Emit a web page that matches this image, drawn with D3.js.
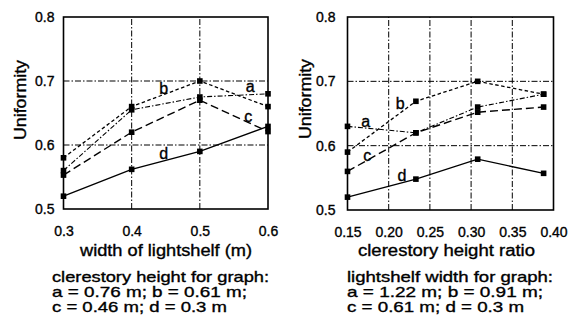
<!DOCTYPE html>
<html><head><meta charset="utf-8">
<script src="https://cdn.jsdelivr.net/npm/d3@7/dist/d3.min.js"></script>
<style>
html,body{margin:0;padding:0;background:#fff;}
text{font-family:"Liberation Sans",Arial,Helvetica,sans-serif;fill:#000;}
</style></head>
<body><svg id="c" width="572" height="329"></svg>
<script>
// ---------- data ----------
const seriesNames = ["a", "b", "c", "d"];

// left graph: width of lightshelf (m)
const leftX = [0.3, 0.4, 0.5, 0.6];
const leftA = [0.56, 0.655, 0.675, 0.68];
const leftB = [0.58, 0.66, 0.70, 0.66];
const leftC = [0.553, 0.62, 0.67, 0.621];
const leftD = [0.52, 0.562, 0.59, 0.629];
const leftXTicks = [0.3, 0.4, 0.5, 0.6];
const leftXTickLabels = ["0.3", "0.4", "0.5", "0.6"];

// right graph: clerestory height ratio
const rightX = [0.15, 0.233, 0.308, 0.388];
const rightA = [0.63, 0.62, 0.66, 0.68];
const rightB = [0.59, 0.669, 0.70, 0.68];
const rightC = [0.56, 0.62, 0.652, 0.66];
const rightD = [0.52, 0.548, 0.579, 0.557];
const rightXTicks = [0.15, 0.20, 0.25, 0.30, 0.35, 0.40];
const rightXTickLabels = ["0.15", "0.20", "0.25", "0.30", "0.35", "0.40"];

const yTicks = [0.5, 0.6, 0.7, 0.8];
const yTickLabels = ["0.5", "0.6", "0.7", "0.8"];

const yTitle = "Uniformity";
const leftXTitle = "width of lightshelf (m)";
const rightXTitle = "clerestory height ratio";
const leftCaption = ["clerestory height for graph:", "a = 0.76 m; b = 0.61 m;", "c = 0.46 m; d = 0.3 m"];
const rightCaption = ["lightshelf width for graph:", "a = 1.22 m; b = 0.91 m;", "c = 0.61 m; d = 0.3 m"];

// ---------- styles ----------
const lineStyle = {
  a: {dash: "5,2,1.5,2", w: 1.1},
  b: {dash: "3.5,2.5", w: 1.3},
  c: {dash: "8,4", w: 1.4},
  d: {dash: null, w: 1.4}
};
const gridDash = "6,2,1.5,2";

const svg = d3.select("#c");
svg.append("rect").attr("width", 572).attr("height", 329).attr("fill", "#fff");

function inkText(sel) {
  return sel.attr("stroke", "#000").attr("stroke-width", 0.35).attr("paint-order", "stroke");
}

function panel(cfg) {
  const x = d3.scaleLinear().domain(cfg.xDomain).range(cfg.xRange);
  const y = d3.scaleLinear().domain([0.5, 0.8]).range(cfg.yRange);
  const g = svg.append("g");

  // grid (dash-dot)
  const gx = cfg.xTicks.filter(v => v > cfg.xDomain[0] + 1e-9 && v < cfg.xDomain[1] - 1e-9);
  g.selectAll(".gx").data(gx).join("line")
    .attr("x1", d => x(d)).attr("x2", d => x(d))
    .attr("y1", y(0.5)).attr("y2", y(0.8))
    .attr("stroke", "#000").attr("stroke-width", 1).attr("stroke-dasharray", gridDash);
  g.selectAll(".gy").data([0.6, 0.7]).join("line")
    .attr("x1", x(cfg.xDomain[0])).attr("x2", x(cfg.xDomain[1]))
    .attr("y1", d => y(d)).attr("y2", d => y(d))
    .attr("stroke", "#000").attr("stroke-width", 1).attr("stroke-dasharray", gridDash);

  // frame
  g.append("rect")
    .attr("x", x(cfg.xDomain[0])).attr("y", y(0.8))
    .attr("width", x(cfg.xDomain[1]) - x(cfg.xDomain[0]))
    .attr("height", y(0.5) - y(0.8))
    .attr("fill", "none").attr("stroke", "#000").attr("stroke-width", 1.6);

  // axis tick labels via d3 axes
  const xa = d3.axisBottom(x).tickValues(cfg.xTicks)
    .tickFormat((d, i) => cfg.xTickLabels[i]).tickSizeInner(0).tickSizeOuter(0).tickPadding(17);
  const gxa = g.append("g").attr("transform", `translate(0,${y(0.5)})`).call(xa);
  gxa.select(".domain").remove();
  inkText(gxa.selectAll("text").attr("font-size", 14).attr("font-family", "Liberation Sans, Arial, sans-serif").attr("fill", "#000"));

  const ya = d3.axisLeft(y).tickValues(yTicks)
    .tickFormat((d, i) => yTickLabels[i]).tickSizeInner(0).tickSizeOuter(0).tickPadding(cfg.yPad);
  const gya = g.append("g").attr("transform", `translate(${x(cfg.xDomain[0])},0)`).call(ya);
  gya.select(".domain").remove();
  inkText(gya.selectAll("text").attr("font-size", 14).attr("font-family", "Liberation Sans, Arial, sans-serif").attr("fill", "#000"));

  // series
  const line = d3.line().x(d => x(d[0])).y(d => y(d[1]));
  seriesNames.forEach((s, k) => {
    const pts = cfg.xs.map((v, i) => [v, cfg.series[k][i]]);
    const st = lineStyle[s];
    g.append("path").attr("d", line(pts)).attr("fill", "none")
      .attr("stroke", "#000").attr("stroke-width", st.w)
      .attr("stroke-dasharray", st.dash);
    g.selectAll(null).data(pts).join("rect")
      .attr("x", d => x(d[0]) - 2.8).attr("y", d => y(d[1]) - 2.8)
      .attr("width", 5.6).attr("height", 5.6).attr("fill", "#000");
  });

  // series letters
  cfg.labelPos.forEach((p, k) => {
    inkText(g.append("text").attr("x", x(p[0])).attr("y", y(p[1])).attr("dy", "0.35em")
      .attr("text-anchor", "middle").attr("font-size", 16).text(seriesNames[k]));
  });

  // y title
  inkText(g.append("text").attr("transform", `translate(${cfg.yTitleX},${cfg.yTitleY}) rotate(-90)`)
    .attr("text-anchor", "middle").attr("font-size", 17)
    .attr("textLength", 80).attr("lengthAdjust", "spacingAndGlyphs").text(yTitle));

  // x title
  inkText(g.append("text").attr("x", cfg.xTitleX).attr("y", 255.5)
    .attr("font-size", 16).attr("textLength", cfg.xTitleW).attr("lengthAdjust", "spacingAndGlyphs")
    .text(cfg.xTitle));

  // caption
  cfg.caption.forEach((t, i) => {
    inkText(g.append("text").attr("x", cfg.capX).attr("y", 282 + i * 15)
      .attr("font-size", 15).attr("textLength", cfg.capW[i]).attr("lengthAdjust", "spacingAndGlyphs")
      .text(t));
  });
}

panel({
  xDomain: [0.3, 0.6], xRange: [63.5, 268], yRange: [209, 17],
  xTicks: leftXTicks, xTickLabels: leftXTickLabels, yPad: 9,
  xs: leftX, series: [leftA, leftB, leftC, leftD],
  labelPos: [[0.574, 0.691], [0.447, 0.689], [0.571, 0.644], [0.447, 0.5875]],
  yTitleX: 26, yTitleY: 100, xTitle: leftXTitle, xTitleX: 80, xTitleW: 172,
  caption: leftCaption, capX: 52, capW: [217, 195, 175]
});
panel({
  xDomain: [0.15, 0.40], xRange: [347.5, 553.5], yRange: [210, 17],
  xTicks: rightXTicks, xTickLabels: rightXTickLabels, yPad: 12,
  xs: rightX, series: [rightA, rightB, rightC, rightD],
  labelPos: [[0.172, 0.637], [0.214, 0.666], [0.174, 0.5855], [0.216, 0.554]],
  yTitleX: 311, yTitleY: 99, xTitle: rightXTitle, xTitleX: 358, xTitleW: 177,
  caption: rightCaption, capX: 347, capW: [206, 196, 177]
});
</script></body></html>
